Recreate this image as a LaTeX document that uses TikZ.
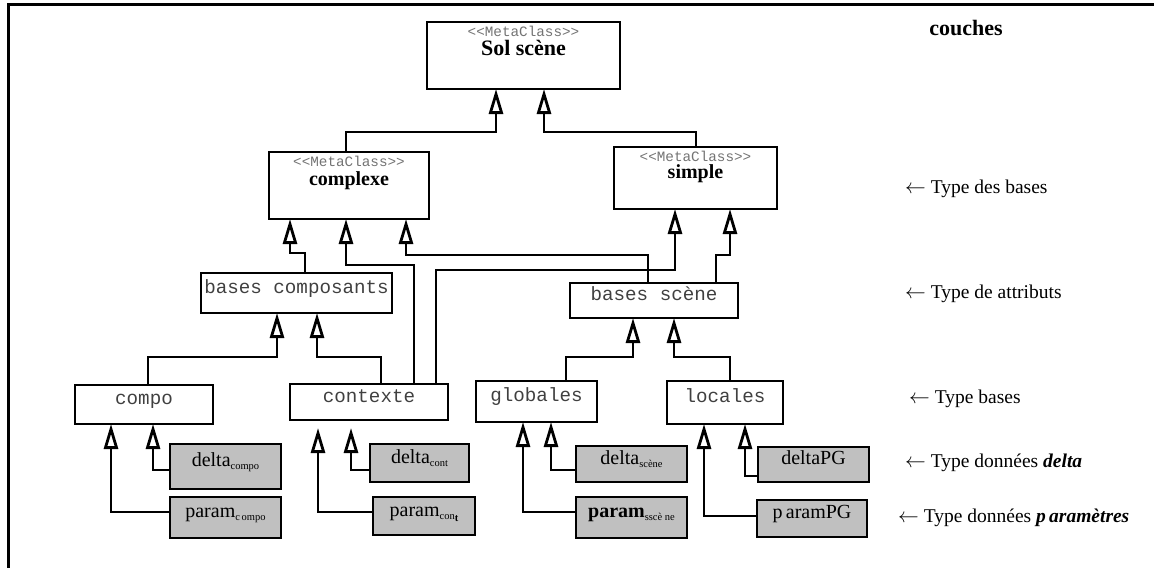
\documentclass[tikz,border=0pt]{standalone}
\usepackage{fontspec}
\setmainfont{Liberation Serif}
\setmonofont{Liberation Mono}
\usepackage{tikz}
\usetikzlibrary{arrows.meta,positioning}
\usepackage{xcolor}
\definecolor{datagray}{RGB}{192,192,192}
\newcommand\sub[1]{\raisebox{-3pt}{\fontsize{10.5}{12}\selectfont #1}}
\newcommand\stereotxt{\textless\textless MetaClass\textgreater\textgreater}

\tikzset{
  box/.style={draw, line width=2.8pt, anchor=north west, inner sep=0pt, outer sep=0pt,
    text height=5pt, text depth=5pt},
  meta/.style={box, font=\fontsize{20}{22}\selectfont\bfseries},
  base/.style={box, font=\ttfamily\fontsize{19.2}{22}\selectfont, text=black!75},
  data/.style={box, fill=datagray, font=\fontsize{20}{24}\selectfont},
  stereo/.style={anchor=north, yshift=-3pt, inner sep=1pt, text=black!55,
    font=\ttfamily\fontsize{14.3}{16}\selectfont},
  inh/.style={line width=2.8pt, -{Triangle[open, length=25pt, width=14pt]}},
  layer/.style={anchor=west, inner sep=0pt, font=\fontsize{19.5}{22}\selectfont},
}

\begin{document}
\begin{tikzpicture}[x=1pt,y=-1pt]
    \useasboundingbox (0,0) rectangle (1154,568);
    % cadre
    \draw[line width=3pt] (1154,4) -- (8,4) -- (8,568);

    % MetaClasses
    \node[meta, minimum width=193, minimum height=67, font=\fontsize{22}{24}\selectfont\bfseries,
      label={[stereo]north:\stereotxt}] (sol) at (427,22) {Sol scène};
    \node[meta, minimum width=160, minimum height=67,
      label={[stereo]north:\stereotxt}] (complexe) at (269,152) {complexe};
    \node[meta, minimum width=163, minimum height=62,
      label={[stereo]north:\stereotxt}] (simple) at (614,147) {simple};

    % bases
    \node[base, minimum width=191, minimum height=40] (bcomp) at (201,273) {bases composants};
    \node[base, minimum width=168, minimum height=35] (bscene) at (570,283) {bases scène};
    \node[base, minimum width=138, minimum height=39] (compo) at (75,385) {compo};
    \node[base, minimum width=158, minimum height=36] (contexte) at (290,384) {contexte};
    \node[base, minimum width=121, minimum height=41] (globales) at (476,381) {globales};
    \node[base, minimum width=116, minimum height=43] (locales) at (667,381) {locales};

    % donnees delta et parametres
    \node[data, minimum width=111, minimum height=45] (dcompo) at (170,444) {delta\sub{compo}};
    \node[data, minimum width=111, minimum height=41] (pcompo) at (170,497) {param\sub{c\,ompo}};
    \node[data, minimum width=99, minimum height=38] (dcont) at (370,444) {delta\sub{cont}};
    \node[data, minimum width=102, minimum height=38] (pcont) at (373,497) {param\sub{con\raisebox{-2pt}{\textbf{t}}}};
    \node[data, minimum width=111, minimum height=36] (dscene) at (576,446) {delta\sub{scène}};
    \node[data, minimum width=111, minimum height=41] (pscene) at (576,497) {\textbf{param}\sub{sscè ne}};
    \node[data, minimum width=111, minimum height=35] (dpg) at (758,447) {deltaPG};
    \node[data, minimum width=110, minimum height=37] (ppg) at (757,500) {p\,aramPG};

    % heritage vers les MetaClasses
    \draw[inh] (complexe.north -| 346,0) -- (346,132) -| (sol.south -| 496,0);
    \draw[inh] (simple.north -| 696,0) -- (696,132) -| (sol.south -| 544,0);
    \draw[inh] (bcomp.north -| 305,0) -- (305,253) -| (complexe.south -| 290,0);
    \draw[inh] (contexte.north -| 414,0) -- (414,265) -| (complexe.south -| 346,0);
    \draw[inh] (bscene.north -| 648,0) -- (648,255) -| (complexe.south -| 406,0);
    \draw[inh] (contexte.north -| 436,0) -- (436,270) -| (simple.south -| 675,0);
    \draw[inh] (bscene.north -| 716,0) -- (716,255) -| (simple.south -| 730,0);

    % heritage vers les bases
    \draw[inh] (compo.north -| 148,0) -- (148,357) -| (bcomp.south -| 277,0);
    \draw[inh] (contexte.north -| 381,0) -- (381,357) -| (bcomp.south -| 317,0);
    \draw[inh] (globales.north -| 566,0) -- (566,357) -| (bscene.south -| 633,0);
    \draw[inh] (locales.north -| 730,0) -- (730,357) -| (bscene.south -| 674,0);

    % donnees
    \draw[inh] (dcompo.west |- 0,470) -| (compo.south -| 153,0);
    \draw[inh] (pcompo.west |- 0,512) -| (compo.south -| 111,0);
    \draw[inh, shorten >=8pt] (dcont.west |- 0,470) -| (contexte.south -| 351,0);
    \draw[inh, shorten >=8pt] (pcont.west |- 0,512) -| (contexte.south -| 318,0);
    \draw[inh] (dscene.west |- 0,470) -| (globales.south -| 551,0);
    \draw[inh] (pscene.west |- 0,512) -| (globales.south -| 523,0);
    \draw[inh] (dpg.west |- 0,476) -| (locales.south -| 745,0);
    \draw[inh] (ppg.west |- 0,516) -| (locales.south -| 704,0);

    % couches
    \node[font=\fontsize{22}{26}\selectfont\bfseries] (couches) at (966,28) {couches};
    \node[layer] (lbases) at (905,189) {$\leftarrow$ Type des bases};
    \node[layer] (lattr) at (905,294) {$\leftarrow$ Type de attributs};
    \node[layer] (ltype) at (909,399) {$\leftarrow$ Type bases};
    \node[layer] (ldelta) at (905,463) {$\leftarrow$ Type données \textbf{\textit{delta}}};
    \node[layer] (lparam) at (898,518) {$\leftarrow$ Type données \textbf{\textit{p\,aramètres}}};
\end{tikzpicture}
\end{document}
